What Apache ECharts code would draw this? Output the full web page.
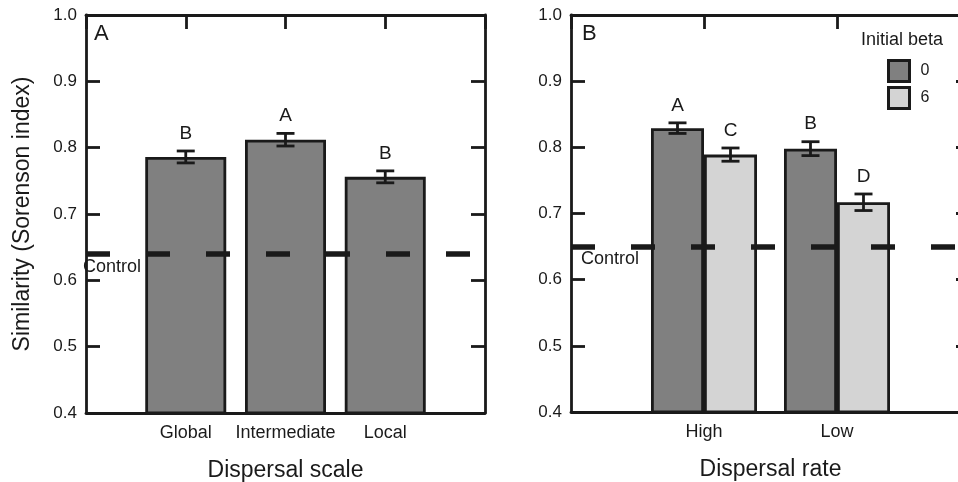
<!DOCTYPE html>
<html>
<head>
<meta charset="utf-8">
<script src="https://cdn.jsdelivr.net/npm/echarts@6/dist/echarts.min.js"></script>
<style>html,body{margin:0;padding:0;background:#fff}#c{width:958px;height:482px}</style>
</head>
<body>
<div id="c"></div>
<script>
// ---- data ----
const catA = ['Global', 'Intermediate', 'Local'];
const meanA = [0.786, 0.812, 0.756];
const seA = [0.009, 0.0095, 0.009];
const letterA = ['B', 'A', 'B'];
const controlA = 0.644;

const catB = ['High', 'Low'];
const beta0Mean = [0.829, 0.798];
const beta0Se = [0.008, 0.0105];
const beta0Letter = ['A', 'B'];
const beta6Mean = [0.789, 0.717];
const beta6Se = [0.010, 0.0125];
const beta6Letter = ['C', 'D'];
const controlB = 0.6455;

const yMin = 0.4, yMax = 1.0, yStep = 0.1;

// ---- styles ----
const FONT = 'Liberation Sans, Arial, sans-serif';
const INK = '#1a1a1a';
const DARK = '#808080';
const LIGHT = '#d4d4d4';
const LW = 2.8;

const chart = echarts.init(document.getElementById('c'), null, {renderer: 'canvas'});

function xAxes(cats, gi, name) {
  const n = cats.length + 1;
  return [{
    type: 'value', gridIndex: gi, min: 0, max: n, interval: 1, position: 'bottom',
    axisLine: {show: true, onZero: false, lineStyle: {color: INK, width: LW}},
    axisTick: {show: false}, splitLine: {show: false},
    axisLabel: {margin: 11, color: INK, fontSize: 18, fontFamily: FONT,
      formatter: v => cats[Math.round(v) - 1] || ''},
    name: name, nameLocation: 'middle', nameGap: 46,
    nameTextStyle: {fontSize: 23, color: INK, fontFamily: FONT}
  }, {
    type: 'value', gridIndex: gi, min: 0, max: n, interval: 1, position: 'top',
    axisLine: {show: true, onZero: false, lineStyle: {color: INK, width: LW}},
    axisTick: {show: true, inside: true, length: 14, lineStyle: {color: INK, width: LW}},
    axisLabel: {show: false}, splitLine: {show: false}
  }];
}
function yAxes(gi, name) {
  return [{
    type: 'value', gridIndex: gi, min: yMin, max: yMax, interval: yStep, position: 'left',
    axisLine: {show: true, onZero: false, lineStyle: {color: INK, width: LW}},
    axisTick: {show: true, inside: true, length: 14, lineStyle: {color: INK, width: LW}},
    splitLine: {show: false},
    axisLabel: {margin: 9, color: INK, fontSize: 17, fontFamily: FONT, formatter: v => v.toFixed(1)},
    name: name, nameLocation: 'middle', nameGap: 52, nameRotate: 90,
    nameTextStyle: {fontSize: 23, color: INK, fontFamily: FONT}
  }, {
    type: 'value', gridIndex: gi, min: yMin, max: yMax, interval: yStep, position: 'right',
    axisLine: {show: true, onZero: false, lineStyle: {color: INK, width: LW}},
    axisTick: {show: true, inside: true, length: 14, lineStyle: {color: INK, width: LW}},
    splitLine: {show: false}, axisLabel: {show: false}
  }];
}

function errSeries(xi, yi, means, ses, letters, pxOffset, control, labelDist) {
  const s = {
    type: 'custom', xAxisIndex: xi, yAxisIndex: yi, z: 5, clip: false,
    encode: {x: 0, y: 1},
    data: means.map((m, i) => [i + 1, m, ses[i], letters[i]]),
    renderItem: function (params, api) {
      const x = api.value(0), m = api.value(1), se = api.value(2);
      const top = api.coord([x, m + se]);
      const bot = api.coord([x, m - se]);
      const cx = top[0] + pxOffset;
      const cap = 9;
      const st = {stroke: INK, lineWidth: LW};
      return {type: 'group', children: [
        {type: 'line', shape: {x1: cx, y1: top[1], x2: cx, y2: bot[1]}, style: st},
        {type: 'line', shape: {x1: cx - cap, y1: top[1], x2: cx + cap, y2: top[1]}, style: st},
        {type: 'line', shape: {x1: cx - cap, y1: bot[1], x2: cx + cap, y2: bot[1]}, style: st},
        {type: 'text', style: {text: letters[params.dataIndex], x: cx, y: top[1] - 8,
          textAlign: 'center', textVerticalAlign: 'bottom', fontSize: 19, fontFamily: FONT, fill: INK}}
      ]};
    }
  };
  if (control !== undefined) {
    s.markLine = {
      silent: true, symbol: 'none', z: 6,
      lineStyle: {color: INK, width: 5.5, type: [24, 36]},
      label: {show: true, position: 'insideStartBottom', formatter: 'Control', distance: labelDist,
        color: INK, fontSize: 18, fontFamily: FONT},
      data: [{yAxis: control}]
    };
  }
  return s;
}

const option = {
  animation: false,
  backgroundColor: '#fff',
  grid: [
    {left: 86, top: 15, width: 399, height: 398, outerBoundsMode: 'none', containLabel: false},
    {left: 571, top: 15, width: 399, height: 397, outerBoundsMode: 'none', containLabel: false}
  ],
  xAxis: [...xAxes(catA, 0, 'Dispersal scale'), ...xAxes(catB, 1, 'Dispersal rate')],
  yAxis: [...yAxes(0, 'Similarity (Sorenson index)'), ...yAxes(1, '')],
  title: [
    {text: 'A', left: 94, top: 23, padding: 0, textStyle: {fontSize: 22, fontWeight: 'normal', color: INK, fontFamily: FONT}},
    {text: 'B', left: 582, top: 23, padding: 0, textStyle: {fontSize: 22, fontWeight: 'normal', color: INK, fontFamily: FONT}},
    {text: 'Initial beta', left: 861, top: 31, padding: 0, textStyle: {fontSize: 18, fontWeight: 'normal', color: INK, fontFamily: FONT}}
  ],
  legend: {
    data: ['0', '6'], orient: 'vertical', left: 887, top: 59, padding: 0,
    itemWidth: 21, itemHeight: 21, itemGap: 3, icon: 'rect',
    itemStyle: {borderColor: INK, borderWidth: 3},
    textStyle: {fontSize: 16, color: INK, fontFamily: FONT, padding: [0, 0, 0, 6]}
  },
  series: [
    {
      type: 'bar', name: 'A', xAxisIndex: 0, yAxisIndex: 0, barWidth: 81,
      itemStyle: {color: DARK, borderColor: INK, borderWidth: LW},
      data: meanA.map((m, i) => [i + 1, m])
    },
    errSeries(0, 0, meanA, seA, letterA, 0, controlA, [-3, 4]),
    {
      type: 'bar', name: '0', xAxisIndex: 2, yAxisIndex: 2, barWidth: 53, barGap: '0%',
      itemStyle: {color: DARK, borderColor: INK, borderWidth: LW},
      data: beta0Mean.map((m, i) => [i + 1, m])
    },
    {
      type: 'bar', name: '6', xAxisIndex: 2, yAxisIndex: 2, barWidth: 53, barGap: '0%',
      itemStyle: {color: LIGHT, borderColor: INK, borderWidth: LW},
      data: beta6Mean.map((m, i) => [i + 1, m])
    },
    errSeries(2, 2, beta0Mean, beta0Se, beta0Letter, -26.5, controlB, [10, 3]),
    errSeries(2, 2, beta6Mean, beta6Se, beta6Letter, 26.5)
  ]
};
chart.setOption(option);
</script>
</body>
</html>
